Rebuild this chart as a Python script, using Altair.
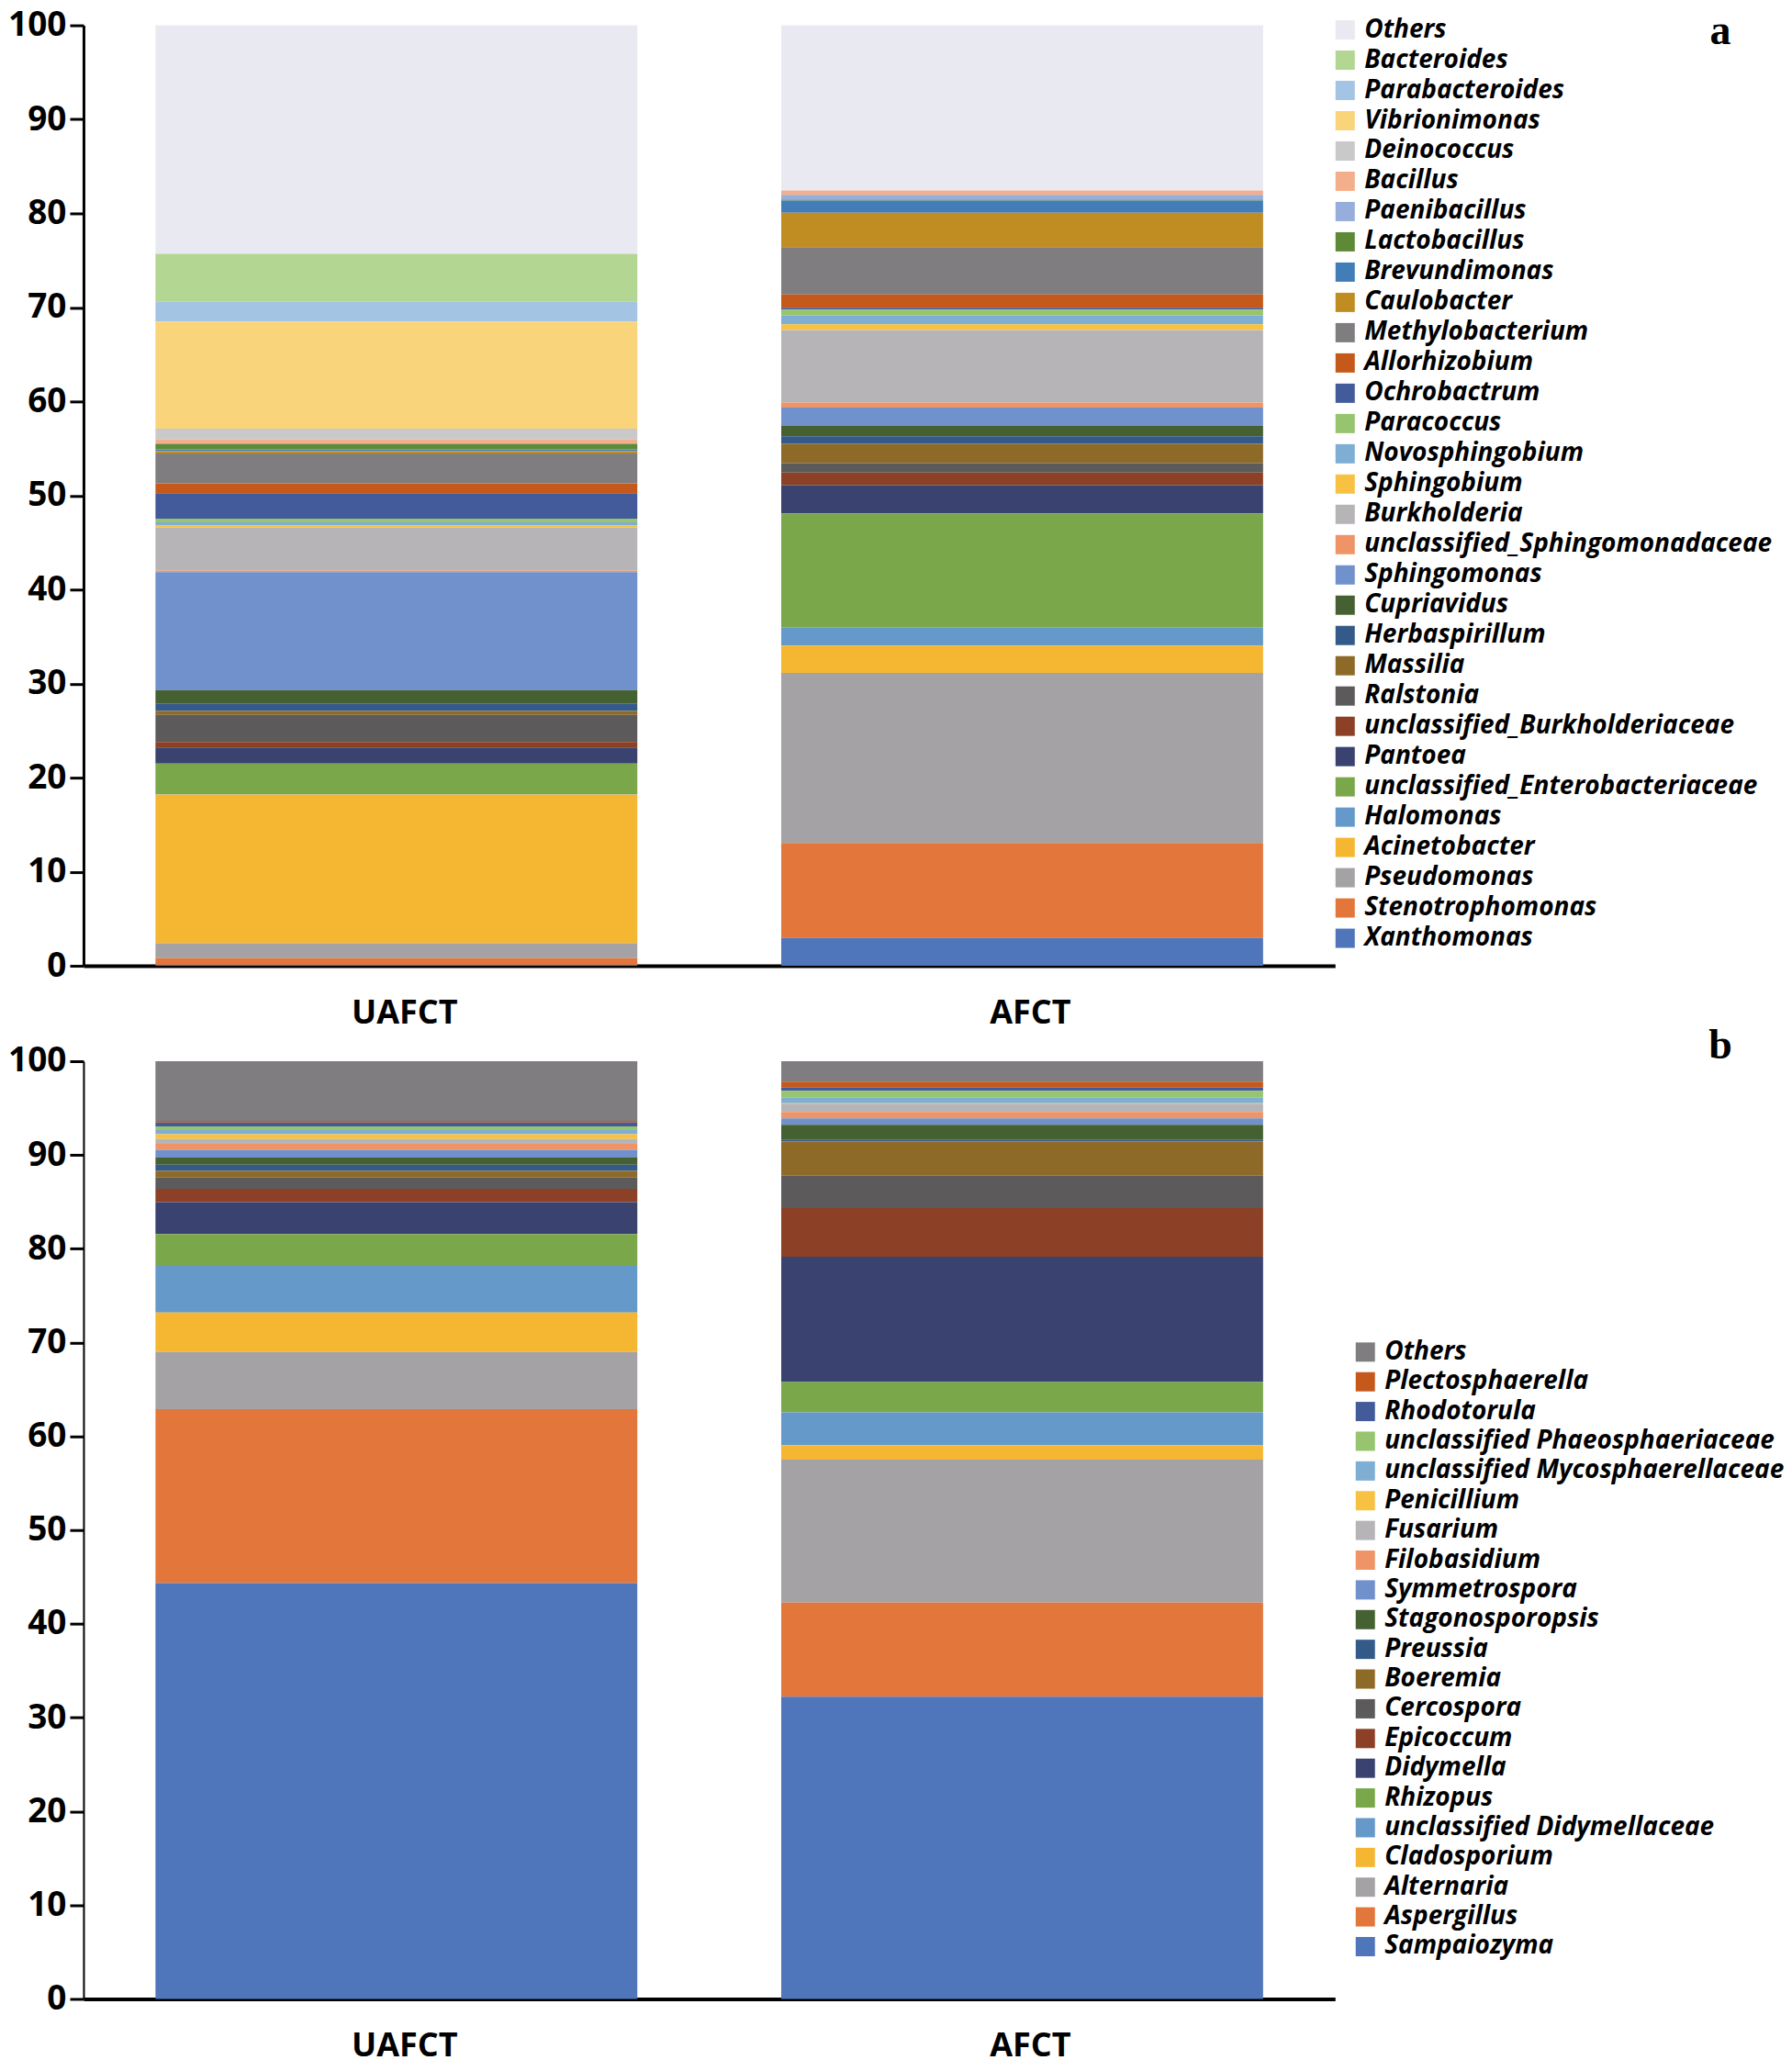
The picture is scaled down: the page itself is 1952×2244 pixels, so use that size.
import altair as alt
import pandas as pd

samples = ["UAFCT", "AFCT"]

# ---------------- Panel a (bacteria) : legend order, top to bottom ----------------
genera_a = [
    "Others", "Bacteroides", "Parabacteroides", "Vibrionimonas", "Deinococcus",
    "Bacillus", "Paenibacillus", "Lactobacillus", "Brevundimonas", "Caulobacter",
    "Methylobacterium", "Allorhizobium", "Ochrobactrum", "Paracoccus", "Novosphingobium",
    "Sphingobium", "Burkholderia", "unclassified_Sphingomonadaceae", "Sphingomonas",
    "Cupriavidus", "Herbaspirillum", "Massilia", "Ralstonia", "unclassified_Burkholderiaceae",
    "Pantoea", "unclassified_Enterobacteriaceae", "Halomonas", "Acinetobacter",
    "Pseudomonas", "Stenotrophomonas", "Xanthomonas",
]
colors_a = [
    "#E9E9F1", "#B3D693", "#A3C4E2", "#F9D47B", "#C9C9C9",
    "#F3AF8B", "#97AEDC", "#5E8A38", "#427DB8", "#BF8D22",
    "#7F7D80", "#C5591B", "#435B9A", "#97C46E", "#7FAED4",
    "#F7C242", "#B6B4B7", "#EE9467", "#7091CB",
    "#466131", "#345A89", "#8E6A28", "#5C5A5B", "#8C4126",
    "#3A426F", "#7AA74A", "#6599C9", "#F5B731",
    "#A4A2A5", "#E3773B", "#4F75BA",
]
uafct_a = [
    24.3, 5.1, 2.1, 11.4, 1.15,
    0.4, 0.05, 0.6, 0.18, 0.25,
    3.17, 1.05, 2.7, 0.4, 0.33,
    0.2, 4.6, 0.17, 12.55,
    1.4, 0.8, 0.43, 2.87, 0.6,
    1.7, 3.25, 0.05, 15.8,
    1.6, 0.7, 0.1,
]
afct_a = [
    17.56, 0.0, 0.0, 0.0, 0.0,
    0.46, 0.52, 0.09, 1.3, 3.65,
    5.04, 1.42, 0.2, 0.59, 0.97,
    0.6, 7.7, 0.55, 1.95,
    1.1, 0.8, 2.05, 1.0, 1.35,
    3.0, 12.1, 1.95, 2.9,
    18.1, 10.1, 2.95,
]

# ---------------- Panel b (fungi) : legend order, top to bottom ----------------
genera_b = [
    "Others", "Plectosphaerella", "Rhodotorula", "unclassified Phaeosphaeriaceae",
    "unclassified Mycosphaerellaceae", "Penicillium", "Fusarium", "Filobasidium",
    "Symmetrospora", "Stagonosporopsis", "Preussia", "Boeremia", "Cercospora",
    "Epicoccum", "Didymella", "Rhizopus", "unclassified Didymellaceae",
    "Cladosporium", "Alternaria", "Aspergillus", "Sampaiozyma",
]
colors_b = [
    "#7F7D80", "#C5591B", "#435B9A", "#97C46E",
    "#7FAED4", "#F7C242", "#B6B4B7", "#EE9467",
    "#7091CB", "#466131", "#345A89", "#8E6A28", "#5C5A5B",
    "#8C4126", "#3A426F", "#7AA74A", "#6599C9",
    "#F5B731", "#A4A2A5", "#E3773B", "#4F75BA",
]
uafct_b = [
    6.36, 0.17, 0.43, 0.39,
    0.43, 0.52, 0.52, 0.62,
    0.85, 0.75, 0.66, 0.71, 1.21,
    1.4, 3.42, 3.4, 4.96,
    4.2, 6.1, 18.55, 44.35,
]
afct_b = [
    2.17, 0.65, 0.33, 0.72,
    0.62, 0.05, 0.87, 0.69,
    0.68, 1.62, 0.17, 3.64, 3.46,
    5.18, 13.36, 3.24, 3.5,
    1.55, 15.23, 10.03, 32.24,
]

FONT = "Open Sans"
PLOT_W = 1364


def frame(genera, v_u, v_a):
    n = len(genera)
    rows = []
    for i, g in enumerate(genera):
        rows.append({"sample": "UAFCT", "genus": g, "value": v_u[i], "stackorder": n - i})
        rows.append({"sample": "AFCT", "genus": g, "value": v_a[i], "stackorder": n - i})
    return pd.DataFrame(rows)


def panel(df, genera, colors, height, legend_x, legend_y, row_pad, tag, tag_y, ydom_w):
    bars = alt.Chart(df).mark_bar().encode(
        x=alt.X(
            "sample:N", sort=samples,
            scale=alt.Scale(paddingInner=0.23, paddingOuter=0.115),
            axis=alt.Axis(
                title=None, labelAngle=0, labelFontSize=36, labelPadding=34,
                labelOffset=9,
                ticks=False, tickSize=0, domainWidth=4, domainColor="black",
                labelColor="black", labelFont=FONT, labelFontWeight="bold",
            ),
        ),
        y=alt.Y(
            "value:Q", stack="zero",
            scale=alt.Scale(domain=[0, 100], nice=False),
            axis=alt.Axis(
                title=None, values=list(range(0, 101, 10)), grid=False,
                labelFontSize=37, labelPadding=4, tickSize=15, tickWidth=3,
                tickColor="black", domainWidth=ydom_w, domainColor="black",
                labelFont=FONT, labelFontWeight="bold", labelColor="black",
            ),
        ),
        color=alt.Color(
            "genus:N",
            scale=alt.Scale(domain=genera, range=colors),
            legend=alt.Legend(
                title=None, orient="none", legendX=legend_x, legendY=legend_y,
                symbolType="square", symbolSize=441, symbolStrokeWidth=0,
                labelFont=FONT, labelFontSize=28, labelFontStyle="italic",
                labelFontWeight="bold", labelColor="black", labelOffset=7,
                rowPadding=row_pad, padding=0, labelLimit=600, columns=1,
                symbolLimit=60,
            ),
        ),
        order=alt.Order("stackorder:Q", sort="ascending"),
        tooltip=["sample:N", "genus:N", "value:Q"],
    )
    tag_chart = alt.Chart(pd.DataFrame({"tag": [tag]})).mark_text(
        font="Liberation Serif", fontWeight="bold", fontSize=46,
        baseline="middle", align="center", color="black",
    ).encode(text="tag:N", x=alt.value(1784), y=alt.value(tag_y))
    return alt.layer(bars, tag_chart).properties(width=PLOT_W, height=height)


pa = panel(frame(genera_a, uafct_a, afct_a), genera_a, colors_a, 1025, 1361, -9, 5.0, "a", 6, 3)
pb = panel(frame(genera_b, uafct_b, afct_b), genera_b, colors_b, 1022, 1383, 303, 4.4, "b", -17, 2)

chart = (
    alt.vconcat(pa, pb, spacing=104, bounds="flush")
    .resolve_scale(color="independent", x="independent", y="independent")
    .properties(padding=0)
    .configure_view(strokeWidth=0)
)

chart.save("out.html", embed_options={"renderer": "svg", "actions": False})
